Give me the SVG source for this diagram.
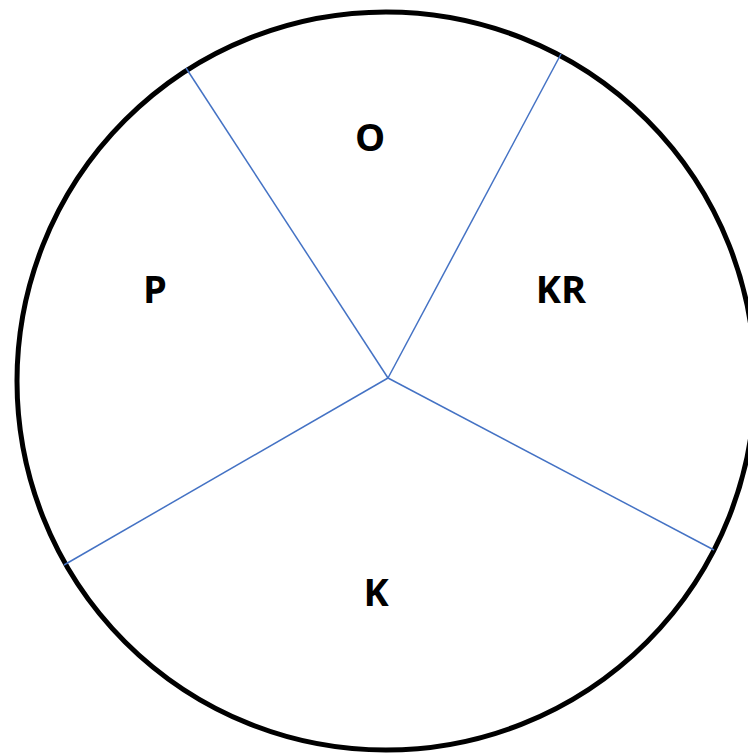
<svg xmlns="http://www.w3.org/2000/svg" width="748" height="756" viewBox="0 0 748 756">
<style>
.lbl{font-family:"Open Sans","Noto Sans","Liberation Sans",sans-serif;font-weight:bold;font-size:38px;fill:#000;text-anchor:middle}
.spoke{stroke:#4472C4;stroke-width:1.5;fill:none}
</style>
<rect width="748" height="756" fill="#fff"/>
<g id="circle"><circle cx="386" cy="381" r="369" fill="none" stroke="#000" stroke-width="5"/></g>
<g id="connectors">
<line class="spoke" x1="388" y1="378" x2="186" y2="68"/>
<line class="spoke" x1="388" y1="378" x2="561" y2="54"/>
<line class="spoke" x1="388" y1="378" x2="714" y2="550"/>
<line class="spoke" x1="388" y1="378" x2="64" y2="565"/>
</g>
<g id="O"><text class="lbl" x="370" y="151">O</text></g>
<g id="KR"><text class="lbl" x="561" y="303">KR</text></g>
<g id="P"><text class="lbl" x="155" y="303">P</text></g>
<g id="K"><text class="lbl" x="376" y="606">K</text></g>
</svg>
